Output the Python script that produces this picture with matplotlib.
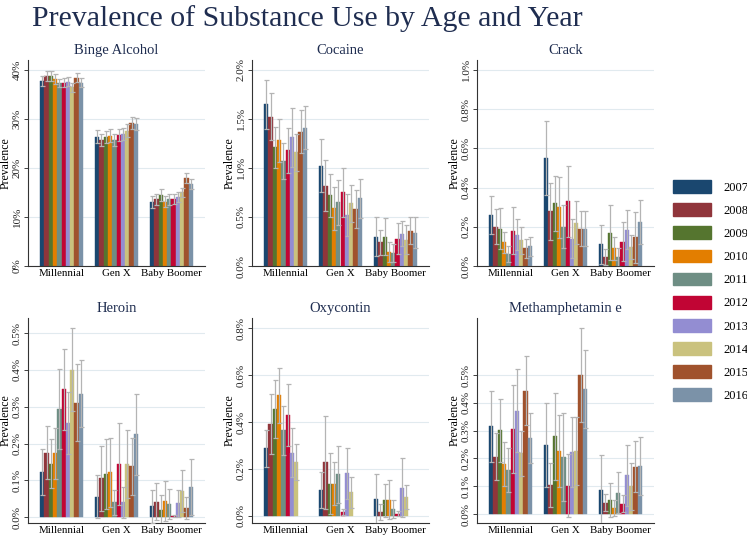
import numpy as np
import matplotlib
matplotlib.use("Agg")
import matplotlib.pyplot as plt
from matplotlib.patches import Patch

plt.rcParams['font.family'] = ['Liberation Serif', 'DejaVu Serif']

years = ['2007', '2008', '2009', '2010', '2011', '2012', '2013', '2014', '2015', '2016']
groups = ['Millennial', 'Gen X', 'Baby Boomer']
colors = ['#1a476f', '#90353b', '#55752f', '#e37e00', '#6e8e84',
          '#c10534', '#938dd2', '#cac27e', '#a0522d', '#7b92a8']

# values (percent) per group x year, and half-widths of confidence intervals
binge_val = [[37.8, 38.8, 38.8, 38.1, 37.3, 37.4, 37.6, 36.4, 38.4, 37.4],
             [26.4, 25.7, 26.3, 26.6, 25.7, 26.7, 26.9, 27.6, 29.1, 29.0],
             [13.1, 13.6, 14.4, 13.1, 13.6, 13.6, 14.1, 15.0, 17.9, 16.7]]
binge_err = [[1.0, 1.0, 1.0, 1.0, 0.9, 0.9, 0.9, 0.9, 0.9, 0.9],
             [1.4, 1.3, 1.3, 1.3, 1.2, 1.3, 1.3, 1.3, 1.2, 1.2],
             [1.2, 1.1, 1.2, 1.1, 1.1, 1.0, 1.0, 1.0, 1.0, 1.0]]

cocaine_val = [[1.65, 1.52, 1.21, 1.28, 1.07, 1.18, 1.31, 1.16, 1.37, 1.41],
               [1.02, 0.82, 0.72, 0.59, 0.65, 0.75, 0.52, 0.64, 0.58, 0.69],
               [0.30, 0.24, 0.30, 0.145, 0.135, 0.28, 0.33, 0.27, 0.36, 0.34]]
cocaine_err = [[0.25, 0.24, 0.21, 0.22, 0.18, 0.23, 0.30, 0.19, 0.22, 0.22],
               [0.27, 0.26, 0.22, 0.22, 0.23, 0.25, 0.21, 0.19, 0.19, 0.20],
               [0.20, 0.13, 0.19, 0.10, 0.09, 0.16, 0.13, 0.15, 0.14, 0.16]]

crack_val = [[0.26, 0.20, 0.19, 0.12, 0.06, 0.18, 0.16, 0.13, 0.09, 0.10],
             [0.55, 0.28, 0.32, 0.30, 0.20, 0.33, 0.14, 0.22, 0.19, 0.19],
             [0.11, 0.047, 0.17, 0.09, 0.044, 0.124, 0.186, 0.098, 0.146, 0.224]]
crack_err = [[0.095, 0.09, 0.105, 0.055, 0.04, 0.12, 0.08, 0.07, 0.05, 0.05],
             [0.19, 0.145, 0.14, 0.155, 0.11, 0.18, 0.10, 0.11, 0.09, 0.09],
             [0.10, 0.04, 0.14, 0.06, 0.05, 0.10, 0.10, 0.06, 0.13, 0.11]]

heroin_val = [[0.122, 0.175, 0.145, 0.173, 0.293, 0.347, 0.256, 0.40, 0.311, 0.335],
              [0.056, 0.105, 0.116, 0.122, 0.04, 0.145, 0.04, 0.145, 0.138, 0.225],
              [0.029, 0.042, 0.02, 0.044, 0.036, 0.004, 0.038, 0.07, 0.025, 0.082]]
heroin_err = [[0.063, 0.072, 0.066, 0.07, 0.109, 0.109, 0.085, 0.113, 0.104, 0.091],
              [0.059, 0.089, 0.095, 0.094, 0.033, 0.111, 0.042, 0.093, 0.078, 0.11],
              [0.044, 0.051, 0.041, 0.054, 0.041, 0.003, 0.037, 0.057, 0.03, 0.077]]

oxy_val = [[0.288, 0.39, 0.456, 0.514, 0.364, 0.43, 0.269, 0.228, np.nan, np.nan],
           [0.111, 0.228, 0.138, 0.138, 0.177, 0.016, 0.182, 0.10, np.nan, np.nan],
           [0.071, 0.016, 0.067, 0.07, 0.03, 0.01, 0.12, 0.08, np.nan, np.nan]]
oxy_err = [[0.078, 0.128, 0.122, 0.118, 0.104, 0.131, 0.105, 0.077, np.nan, np.nan],
           [0.075, 0.199, 0.128, 0.093, 0.12, 0.012, 0.108, 0.065, np.nan, np.nan],
           [0.107, 0.035, 0.07, 0.085, 0.04, 0.01, 0.125, 0.05, np.nan, np.nan]]

meth_val = [[0.315, 0.207, 0.301, 0.18, 0.159, 0.306, 0.371, 0.218, 0.444, 0.275],
            [0.249, 0.105, 0.279, 0.227, 0.205, 0.102, 0.224, 0.227, 0.50, 0.45],
            [0.088, 0.041, 0.05, 0.022, 0.077, 0.038, 0.14, 0.10, 0.17, 0.173]]
meth_err = [[0.126, 0.086, 0.112, 0.08, 0.079, 0.159, 0.149, 0.082, 0.123, 0.09],
            [0.151, 0.08, 0.158, 0.129, 0.157, 0.114, 0.126, 0.121, 0.168, 0.14],
            [0.126, 0.03, 0.062, 0.03, 0.073, 0.03, 0.11, 0.084, 0.092, 0.105]]

panels = [
    ('Binge Alcohol', binge_val, binge_err, [0, 10, 20, 30, 40], (0, 42.0), '{:.0f}%'),
    ('Cocaine', cocaine_val, cocaine_err, [0, 0.5, 1.0, 1.5, 2.0], (0, 2.1), '{:.1f}%'),
    ('Crack', crack_val, crack_err, [0, 0.2, 0.4, 0.6, 0.8, 1.0], (0, 1.05), '{:.1f}%'),
    ('Heroin', heroin_val, heroin_err, [0, 0.1, 0.2, 0.3, 0.4, 0.5], (-0.016, 0.541), '{:.1f}%'),
    ('Oxycontin', oxy_val, oxy_err, [0, 0.2, 0.4, 0.6, 0.8], (-0.030, 0.843), '{:.1f}%'),
    ('Methamphetamin e', meth_val, meth_err, [0, 0.1, 0.2, 0.3, 0.4, 0.5], (-0.032, 0.705), '{:.1f}%'),
]

W, H = 747, 537
fig = plt.figure(figsize=(W / 100, H / 100), dpi=100)
fig.patch.set_facecolor('white')

lefts = [28, 252, 477]
row_bounds = [(60, 266), (318, 523)]
axw = 177
title_color = '#1f2d50'

bw = 0.078
for k, (name, vals, errs, ticks, ylim, fmt) in enumerate(panels):
    r, c = divmod(k, 3)
    top, bot = row_bounds[r]
    ax = fig.add_axes([lefts[c] / W, 1 - bot / H, axw / W, (bot - top) / H])
    vals = np.array(vals, dtype=float)
    errs = np.array(errs, dtype=float)
    gx = np.arange(len(groups))
    for j in range(len(years)):
        x = gx + (j - 4.5) * bw
        v = vals[:, j]
        e = errs[:, j]
        if np.all(np.isnan(v)):
            continue
        ax.bar(x, v, width=bw, color=colors[j], edgecolor=colors[j], linewidth=0.3, zorder=2)
        eb = ax.errorbar(x, v, yerr=e, fmt='none', ecolor='#b4b4b4', elinewidth=0.9,
                         capsize=1.8, capthick=0.9, zorder=3)
        for cl in eb[1]:
            cl.set_color('#7a7a7a')
    ax.set_xlim(-0.61, 2.61)
    ax.set_ylim(*ylim)
    ax.set_yticks(ticks)
    ax.set_yticklabels([fmt.format(t) for t in ticks], fontsize=8, rotation=90, va='center')
    ax.set_xticks(gx)
    ax.set_xticklabels(groups, fontsize=7.8)
    ax.tick_params(axis='x', length=0, pad=2)
    ax.tick_params(axis='y', length=3, width=0.6, pad=1.5, colors='#222222')
    ax.grid(axis='y', color='#e1eaef', linewidth=0.8, zorder=0)
    ax.set_axisbelow(True)
    for s in ['top', 'right']:
        ax.spines[s].set_visible(False)
    for s in ['left', 'bottom']:
        ax.spines[s].set_color('#333333')
        ax.spines[s].set_linewidth(0.8)
    ax.set_ylabel('Prevalence', fontsize=8.5, labelpad=1)
    ax.set_title(name, fontsize=10.5, color=title_color, pad=4)

fig.text(307 / W, 1 - 19 / H, 'Prevalence of Substance Use by Age and Year',
         fontsize=21.5, color=title_color, ha='center', va='center')

handles = [Patch(facecolor=colors[j], edgecolor=colors[j]) for j in range(len(years))]
fig.legend(handles, years, loc='center left', bbox_to_anchor=(673 / W, 1 - 291 / H),
           frameon=False, fontsize=9, handlelength=3.0, handleheight=1.2,
           labelspacing=0.76, handletextpad=1.0, borderpad=0, borderaxespad=0)

fig.savefig('out.png', dpi=100)
